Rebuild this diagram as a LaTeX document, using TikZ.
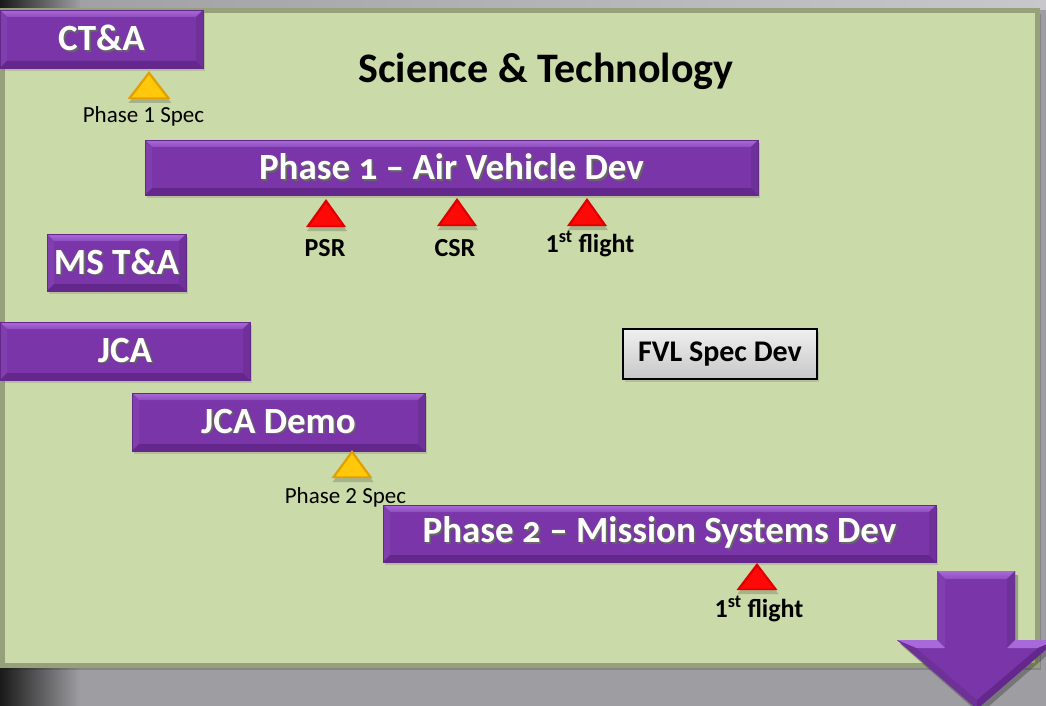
\documentclass[tikz,border=0pt]{standalone}
\usepackage{fontspec}
\setmainfont{Carlito}
\newfontfamily\barfont{Carlito}[Numbers=OldStyle]
\usetikzlibrary{calc,shadows}

\definecolor{bggrey}{RGB}{158,158,162}
\definecolor{bglight}{RGB}{200,200,204}
\definecolor{panelgreen}{RGB}{203,218,169}
\definecolor{paneledge}{RGB}{150,160,122}
\definecolor{barpurple}{RGB}{122,54,168}
\definecolor{barlight}{RGB}{168,106,218}
\definecolor{bardark}{RGB}{100,40,140}
\definecolor{goldA}{RGB}{226,160,0}
\definecolor{goldB}{RGB}{255,200,10}
\definecolor{redA}{RGB}{222,0,0}
\definecolor{redB}{RGB}{255,8,8}

% white text with a dark copy behind it
\newcommand\shtext[1]{\makebox[0pt][l]{\hspace{1.6pt}\raisebox{-1.6pt}{\color{black!60}#1}}#1}

% milestone triangle: apex, half width, height, edge colour, face colour
\newcommand\mstone[5]{%
  \fill[black,opacity=0.18] ($(#1)+(1,4)$) -- ++(-#2,#3) -- ++(2*#2,0) -- cycle;
  \fill[#4] (#1) -- ++(-#2,#3) -- ++(2*#2,0) -- cycle;
  \fill[#5] ($(#1)+(0,4)$) -- ++(-0.8*#2,0.8*#3) -- ++(1.6*#2,0) -- cycle;
}

\begin{document}
\begin{tikzpicture}[x=1pt,y=-1pt,
  bar/.style={draw=bardark, line width=0.6pt, fill=barpurple, text=white,
    font=\barfont\bfseries\fontsize{37}{40}\selectfont, inner sep=0pt,
    drop shadow={shadow xshift=2pt, shadow yshift=-3pt, opacity=0.3},
    path picture={
      \path (path picture bounding box.north west) coordinate (bnw)
            (path picture bounding box.north east) coordinate (bne)
            (path picture bounding box.south west) coordinate (bsw)
            (path picture bounding box.south east) coordinate (bse);
      \shade[top color=barlight, bottom color=barpurple!55!barlight]
        (bnw) -- (bne) -- ($(bne)+(-7pt,-7pt)$) -- ($(bnw)+(7pt,-7pt)$) -- cycle;
      \fill[barpurple!85!barlight]
        (bnw) -- ($(bnw)+(7pt,-7pt)$) -- ($(bsw)+(7pt,7pt)$) -- (bsw) -- cycle;
      \fill[bardark]
        (bsw) -- ($(bsw)+(7pt,7pt)$) -- ($(bse)+(-7pt,7pt)$) -- (bse) -- cycle;
      \fill[barpurple!90!black]
        (bse) -- ($(bse)+(-7pt,7pt)$) -- ($(bne)+(-7pt,-7pt)$) -- (bne) -- cycle;
    }},
  specbox/.style={draw=black, line width=1.3pt, top color=white!94!black,
    bottom color=black!22, inner sep=0pt, font=\bfseries\fontsize{30}{32}\selectfont,
    drop shadow={shadow xshift=2pt, shadow yshift=-3pt, opacity=0.3}},
  mslabel/.style={anchor=base, font=\bfseries\fontsize{26}{28}\selectfont},
  speclabel/.style={anchor=base, font=\fontsize{23}{26}\selectfont}]

  \useasboundingbox (0,0) rectangle (1046,706);
  \clip (0,0) rectangle (1046,706);

  % backdrop
  \fill[bggrey] (0,0) rectangle (1046,706);
  \shade[left color=bggrey, right color=bglight] (0,0) rectangle (1046,10);
  \shade[left color=black!90, right color=bggrey] (0,0) rectangle (80,706);

  % green panel
  \fill[black,opacity=0.15] (4,14) rectangle (1041,670);
  \draw[fill=panelgreen,draw=paneledge,line width=5pt] (2.5,10.5) rectangle (1037.5,665.5);

  \node[font=\bfseries\fontsize{42}{44}\selectfont,anchor=base] (title) at (546,83) {Science \& Technology};

  % bars
  \node[bar,minimum width=203,minimum height=58] (cta) at (101.5,39) {\shtext{CT\&A}};
  \node[bar,minimum width=613,minimum height=55] (phaseone) at (451.5,167.5) {\shtext{Phase 1 – Air Vehicle Dev}};
  \node[bar,minimum width=139,minimum height=57] (msta) at (116.5,262.5) {\shtext{MS T\&A}};
  \node[bar,minimum width=250,minimum height=58] (jca) at (125,351) {\shtext{JCA}};
  \node[bar,minimum width=293,minimum height=58] (jcademo) at (278.5,422) {\shtext{JCA Demo}};
  \node[bar,minimum width=553,minimum height=57] (phasetwo) at (659.5,533.5) {\shtext{Phase 2 – Mission Systems Dev}};

  \node[specbox,minimum width=194,minimum height=50] (fvl) at (720,354) {FVL Spec Dev};

  % milestones
  \coordinate (specone) at (149,71);
  \coordinate (psr) at (326,199);
  \coordinate (csr) at (457,198);
  \coordinate (flyone) at (587,198);
  \coordinate (spectwo) at (352,450);
  \coordinate (flytwo) at (757,563);

  \mstone{specone}{21.5}{28}{goldA}{goldB}
  \mstone{spectwo}{20.5}{28}{goldA}{goldB}
  \mstone{psr}{20}{28}{redA}{redB}
  \mstone{csr}{20}{28}{redA}{redB}
  \mstone{flyone}{20}{28}{redA}{redB}
  \mstone{flytwo}{20.5}{27}{redA}{redB}

  \node[speclabel] (speconelbl) at (143.5,123) {Phase 1 Spec};
  \node[speclabel] (spectwolbl) at (345.5,503) {Phase 2 Spec};
  \node[mslabel] (psrlbl) at (325,256) {PSR};
  \node[mslabel] (csrlbl) at (455,256) {CSR};
  \node[mslabel] (flyonelbl) at (590,252) {1\textsuperscript{st} flight};
  \node[mslabel] (flytwolbl) at (759,617) {1\textsuperscript{st} flight};

  % big down arrow
  \fill[black,opacity=0.25] (940,575) -- (1018,575) -- (1018,644) -- (1060,644) -- (980,714) -- (900,644) -- (940,644) -- cycle;
  \fill[barpurple] (937,571) -- (1015,571) -- (1015,640) -- (1057,640) -- (977,709) -- (897,640) -- (937,640) -- cycle;
  \shade[top color=barlight, bottom color=barpurple!55!barlight] (937,571) -- (1015,571) -- (1007,579) -- (945,579) -- cycle;
  \fill[barpurple!85!barlight] (937,571) -- (945,579) -- (945,648) -- (937,640) -- cycle;
  \fill[barpurple!90!black] (1015,571) -- (1007,579) -- (1007,648) -- (1015,640) -- cycle;
  \fill[barlight] (897,640) -- (937,640) -- (945,648) -- (916,648) -- cycle;
  \fill[barlight] (1015,640) -- (1057,640) -- (1038,648) -- (1007,648) -- cycle;
  \fill[barpurple!90!black] (897,640) -- (916,648) -- (977,700) -- (977,709) -- cycle;
  \fill[bardark] (1057,640) -- (1038,648) -- (977,700) -- (977,709) -- cycle;
\end{tikzpicture}
\end{document}
